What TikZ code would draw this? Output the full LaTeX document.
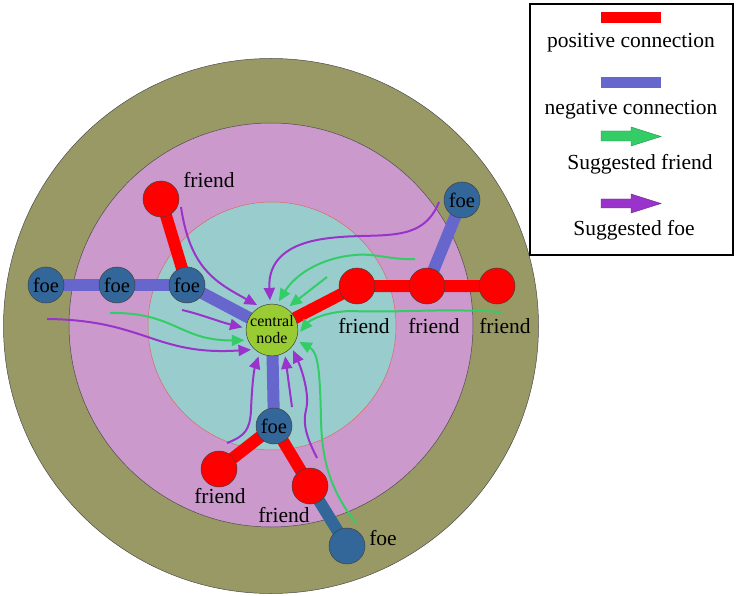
\documentclass[tikz,border=0pt]{standalone}
\usepackage{fontspec}
\setmainfont{Liberation Serif}
\usetikzlibrary{arrows.meta}
\definecolor{ringO}{HTML}{999966}
\definecolor{ringP}{HTML}{CC99CC}
\definecolor{ringT}{HTML}{99CCCC}
\definecolor{centralc}{HTML}{99CC33}
\definecolor{foeblue}{HTML}{336699}
\definecolor{negblue}{HTML}{6666CC}
\definecolor{sgreen}{HTML}{33CC66}
\definecolor{spurple}{HTML}{9933CC}
\definecolor{innerborder}{HTML}{E06666}
\pgfdeclarelayer{back}
\pgfdeclarelayer{edges}
\pgfsetlayers{back,edges,main}
\begin{document}
\begin{tikzpicture}[x=1pt,y=-1pt,
  every node/.style={font=\fontsize{21.5}{25}\selectfont},
  lbl/.style={inner sep=0pt,anchor=base},
  friendnode/.style={circle,draw=black!75,line width=0.5pt,fill=red,minimum size=36pt,inner sep=0pt},
  foenode/.style={circle,draw=black!75,line width=0.5pt,fill=foeblue,minimum size=36pt,inner sep=0pt,font=\fontsize{20.5}{22}\selectfont},
  posline/.style={draw=red,line width=12pt},
  negline/.style={draw=negblue,line width=12pt},
  darkline/.style={draw=foeblue,line width=12pt},
  sugfriend/.style={draw=sgreen,line width=2pt,-{Triangle[length=12.5pt,width=11pt]},shorten >=3.5pt},
  sugfoe/.style={draw=spurple,line width=2pt,-{Triangle[length=12.5pt,width=11pt]},shorten >=3.5pt},
  ringline/.style={draw=black!70,line width=0.5pt}
]
\useasboundingbox (0,0) rectangle (736,596);

% rings
\begin{pgfonlayer}{back}
\fill[white] (0,0) rectangle (736,596);
\filldraw[ringline,fill=ringO] (271,326) circle[radius=267.5pt];
\filldraw[ringline,fill=ringP] (271,325) circle[radius=202pt];
\filldraw[draw=innerborder,line width=0.5pt,fill=ringT] (272,326) circle[radius=124pt];
\end{pgfonlayer}

% nodes
\node[circle,draw=black!75,line width=0.5pt,fill=centralc,minimum size=51pt,inner sep=0pt,align=center,font=\fontsize{16}{17}\selectfont] (c) at (272,330) {central\\node};
\node[friendnode] (tlf) at (161,199) {};
\node[foenode] (f1) at (46,285) {foe};
\node[foenode] (f2) at (117,285) {foe};
\node[foenode] (f3) at (187,285) {foe};
\node[friendnode] (r1) at (357,286) {};
\node[friendnode] (r2) at (427,286) {};
\node[friendnode] (r3) at (497,286) {};
\node[foenode] (tf) at (462,200) {foe};
\node[foenode] (bf) at (274,426) {foe};
\node[friendnode] (br1) at (219,469) {};
\node[friendnode] (br2) at (310,486) {};
\node[foenode] (bfoe) at (347,546) {};

% connections
\begin{pgfonlayer}{edges}
\draw[posline] (tlf.center) -- (f3.center);
\draw[negline] (f1.center) -- (f2.center) -- (f3.center);
\draw[negline] (f3.center) -- (c.center);
\draw[posline] (c.center) -- (r1.center) -- (r2.center) -- (r3.center);
\draw[negline] (r2.center) -- (tf.center);
\draw[negline] (c.center) -- (bf.center);
\draw[posline] (bf.center) -- (br1.center);
\draw[posline] (bf.center) -- (br2.center);
\draw[darkline] (br2.center) -- (bfoe.center);
\end{pgfonlayer}

% labels
\node[lbl] (lt) at (209,188) {friend};
\node[lbl] (lr1) at (364,333) {friend};
\node[lbl] (lr2) at (434,333) {friend};
\node[lbl] (lr3) at (505,333) {friend};
\node[lbl] (lb1) at (220,503) {friend};
\node[lbl] (lb2) at (284,522) {friend};
\node[lbl] (lb3) at (383,545) {foe};

% suggestion arrows
\coordinate (sA) at (181,207);
\coordinate (sB) at (439,202);
\coordinate (sC) at (415,259);
\coordinate (sD) at (327,277);
\coordinate (sE) at (502,312);
\coordinate (sF) at (356,523);
\coordinate (sG) at (317,458);
\coordinate (sH) at (292,407);
\coordinate (sI) at (227,443);
\coordinate (sJ) at (182,310);
\coordinate (sK) at (110,313);
\coordinate (sL) at (47,319);

\draw[sugfoe] (sA) .. controls (190,268) and (215,282) .. (c.117);
\draw[sugfoe] (sB) .. controls (422,245) and (380,232) .. (330,238) .. controls (285,243) and (268,262) .. (c.94);
\draw[sugfriend] (sC) .. controls (390,260) and (375,253) .. (355,255) .. controls (320,258) and (295,275) .. (c.79);
\draw[sugfriend] (sD) -- (c.56);
\draw[sugfriend] (sE) .. controls (440,308) and (400,313) .. (350,311) .. controls (325,312) and (310,320) .. (c.-10);
\draw[sugfriend] (sF) .. controls (330,490) and (322,460) .. (321,420) .. controls (320,370) and (318,352) .. (c.-23);
\draw[sugfoe] (sG) .. controls (308,440) and (302,425) .. (306,410) .. controls (310,395) and (302,370) .. (c.-41);
\draw[sugfoe] (sH) -- (c.-61);
\draw[sugfoe] (sI) .. controls (245,436) and (250,430) .. (251,410) .. controls (252,385) and (254,370) .. (c.-118);
\draw[sugfoe] (sJ) .. controls (200,314) and (220,322) .. (c.176);
\draw[sugfriend] (sK) .. controls (175,312) and (180,341) .. (c.203);
\draw[sugfoe] (sL) .. controls (145,320) and (155,356) .. (c.228);

% legend
\draw[line width=2pt] (530,4) rectangle (733,255);
\fill[red] (601,12) rectangle (661,23);
\node[lbl] (lg1) at (631,48) {positive connection};
\fill[negblue] (601,77) rectangle (661,88);
\node[lbl] (lg2) at (631,115) {negative connection};
\filldraw[fill=sgreen,draw=sgreen!70!black,line width=0.4pt] (601,131) -- (631,131) -- (631,127) -- (661,136.5) -- (631,146) -- (631,141) -- (601,141) -- cycle;
\node[lbl] (lg3) at (640,170) {Suggested friend};
\filldraw[fill=spurple,draw=spurple!70!black,line width=0.4pt] (601,199) -- (631,199) -- (631,194) -- (661,203.5) -- (631,213) -- (631,208) -- (601,208) -- cycle;
\node[lbl] (lg4) at (634,235) {Suggested foe};
\end{tikzpicture}
\end{document}
